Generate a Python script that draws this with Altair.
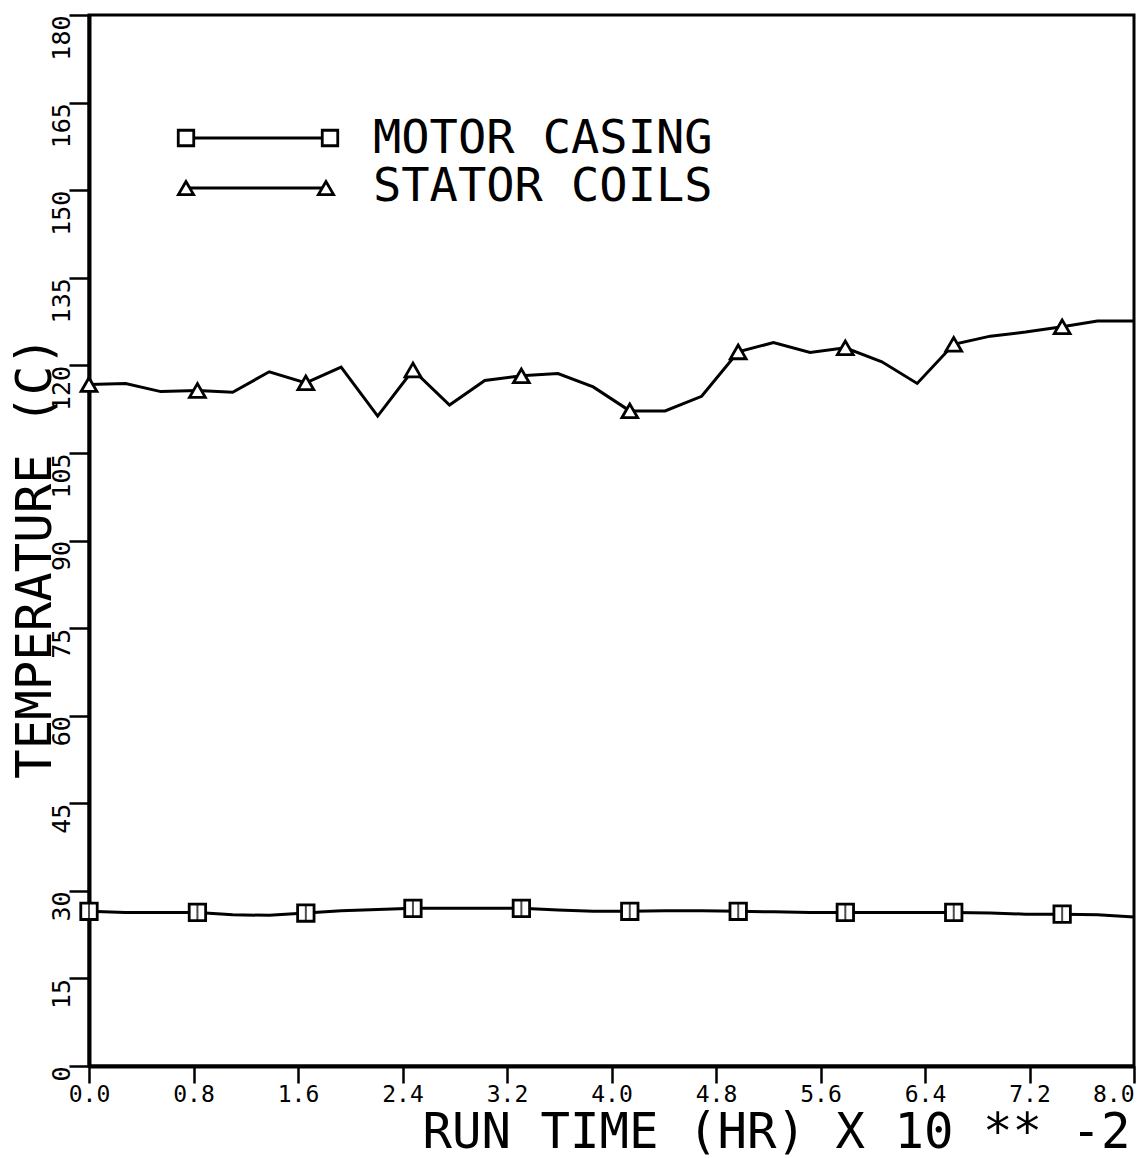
import altair as alt
import pandas as pd

# ---- data ----
run_time = [0.00, 0.28, 0.55, 0.83, 1.10, 1.38, 1.66, 1.93, 2.21, 2.48,
            2.76, 3.03, 3.31, 3.59, 3.86, 4.14, 4.41, 4.69, 4.97, 5.24,
            5.52, 5.79, 6.07, 6.34, 6.62, 6.90, 7.17, 7.45, 7.72, 8.00]
stator_coils = [116.7, 116.9, 115.5, 115.7, 115.4, 118.9, 117.0, 119.7, 111.3, 119.2,
                113.2, 117.4, 118.2, 118.6, 116.3, 112.2, 112.2, 114.7, 122.3, 123.9,
                122.2, 123.0, 120.6, 116.9, 123.6, 125.0, 125.7, 126.6, 127.6, 127.6]
motor_casing = [26.5, 26.3, 26.3, 26.3, 25.9, 25.8, 26.2, 26.6, 26.8, 27.0,
                27.0, 27.0, 27.0, 26.7, 26.5, 26.5, 26.6, 26.6, 26.5, 26.4,
                26.3, 26.3, 26.3, 26.3, 26.3, 26.2, 26.0, 26.0, 25.9, 25.5]
x_ticks = [0.0, 0.8, 1.6, 2.4, 3.2, 4.0, 4.8, 5.6, 6.4, 7.2, 8.0]
y_ticks = [0, 15, 30, 45, 60, 75, 90, 105, 120, 135, 150, 165, 180]
series_names = ["MOTOR CASING", "STATOR COILS"]

rows = []
for i, t in enumerate(run_time):
    rows.append({"t": t, "temp": motor_casing[i], "series": series_names[0], "idx": i})
    rows.append({"t": t, "temp": stator_coils[i], "series": series_names[1], "idx": i})
df = pd.DataFrame(rows)

FONT = "DejaVu Sans Mono"

x_enc = alt.X("t:Q", scale=alt.Scale(domain=[0, 8], nice=False, zero=False),
              axis=alt.Axis(values=x_ticks, format=".1f", title="RUN TIME (HR) X 10 ** -2",
                            grid=False, domainColor="black", domainWidth=4,
                            tickColor="black", tickWidth=2.5, tickSize=17,
                            labelFont=FONT, labelFontSize=23, labelColor="black",
                            labelPadding=0, labelBaseline="top", labelFlush=False,
                            labelAlign={"expr": "datum.value >= 8 ? 'right' : 'center'"},
                            labelOverlap=False,
                            titleFont=FONT, titleFontSize=49, titleFontWeight="normal",
                            titleColor="black", titleAlign="right", titleAnchor="end",
                            titleX=1041, titleY=81, titleBaseline="alphabetic"))
y_enc = alt.Y("temp:Q", scale=alt.Scale(domain=[0, 180], nice=False, zero=False),
              axis=alt.Axis(values=y_ticks, title="TEMPERATURE (C)",
                            grid=False, domainColor="black", domainWidth=4,
                            tickColor="black", tickWidth=2.5, tickSize=20,
                            labelFont=FONT, labelFontSize=25, labelColor="black",
                            labelAngle=270, labelAlign="right", labelBaseline="alphabetic",
                            labelPadding=0, labelFlush=False, labelOverlap=False,
                            titleFont=FONT, titleFontSize=49, titleFontWeight="normal",
                            titleColor="black", titleAngle=270, titleAlign="center",
                            titleX=-39, titleY=542, titleBaseline="alphabetic"))

base = alt.Chart(df)

lines = base.mark_line(color="black", strokeWidth=3).encode(
    x=x_enc, y=y_enc, detail="series:N")

casing_pts = base.transform_filter(
    (alt.datum.series == series_names[0]) & (alt.datum.idx % 3 == 0)
).mark_point(shape="square", filled=False, fill="white", fillOpacity=1,
             color="black", strokeWidth=2.8, size=270, opacity=1).encode(x="t:Q", y="temp:Q")

casing_bar = base.transform_filter(
    (alt.datum.series == series_names[0]) & (alt.datum.idx % 3 == 0)
).mark_tick(orient="vertical", color="black", thickness=2, size=15).encode(x="t:Q", y="temp:Q")

stator_pts = base.transform_filter(
    (alt.datum.series == series_names[1]) & (alt.datum.idx % 3 == 0)
).mark_point(shape="triangle-up", filled=False, fill="white", fillOpacity=1,
             color="black", strokeWidth=2.8, size=250, opacity=1).encode(x="t:Q", y="temp:Q")

# ---- hand-drawn legend (as in the original plot) ----
leg = pd.DataFrame({"name": series_names})
leg_motor = alt.Chart(leg).transform_filter(alt.datum.name == series_names[0])
leg_stator = alt.Chart(leg).transform_filter(alt.datum.name == series_names[1])

leg_line1 = leg_motor.mark_rule(color="black", strokeWidth=3).encode(
    x=alt.value(97), x2=alt.value(241), y=alt.value(123))
leg_line2 = leg_stator.mark_rule(color="black", strokeWidth=3).encode(
    x=alt.value(97), x2=alt.value(237), y=alt.value(173))
leg_sq1 = leg_motor.mark_point(shape="square", filled=False, fill="white", fillOpacity=1,
                               color="black", strokeWidth=2.8, size=240, opacity=1).encode(
    x=alt.value(97), y=alt.value(123))
leg_sq2 = leg_motor.mark_point(shape="square", filled=False, fill="white", fillOpacity=1,
                               color="black", strokeWidth=2.8, size=240, opacity=1).encode(
    x=alt.value(241), y=alt.value(123))
leg_tr1 = leg_stator.mark_point(shape="triangle-up", filled=False, fill="white", fillOpacity=1,
                                color="black", strokeWidth=2.8, size=230, opacity=1).encode(
    x=alt.value(97), y=alt.value(173))
leg_tr2 = leg_stator.mark_point(shape="triangle-up", filled=False, fill="white", fillOpacity=1,
                                color="black", strokeWidth=2.8, size=230, opacity=1).encode(
    x=alt.value(237), y=alt.value(173))
leg_txt1 = leg_motor.mark_text(font=FONT, fontSize=47, align="left", baseline="alphabetic",
                               color="black").encode(
    x=alt.value(284), y=alt.value(138), text="name:N")
leg_txt2 = leg_stator.mark_text(font=FONT, fontSize=47, align="left", baseline="alphabetic",
                                color="black").encode(
    x=alt.value(284), y=alt.value(186), text="name:N")

chart = alt.layer(
    lines, casing_pts, casing_bar, stator_pts,
    leg_line1, leg_line2, leg_sq1, leg_sq2, leg_tr1, leg_tr2, leg_txt1, leg_txt2
).properties(
    width=1045, height=1051,
    autosize=alt.AutoSizeParams(type="none"),
    padding={"left": 89, "top": 15, "right": 10, "bottom": 92},
    background="white",
).configure_view(stroke="black", strokeWidth=3)

chart.save("out.html", embed_options={"renderer": "svg", "actions": False})
